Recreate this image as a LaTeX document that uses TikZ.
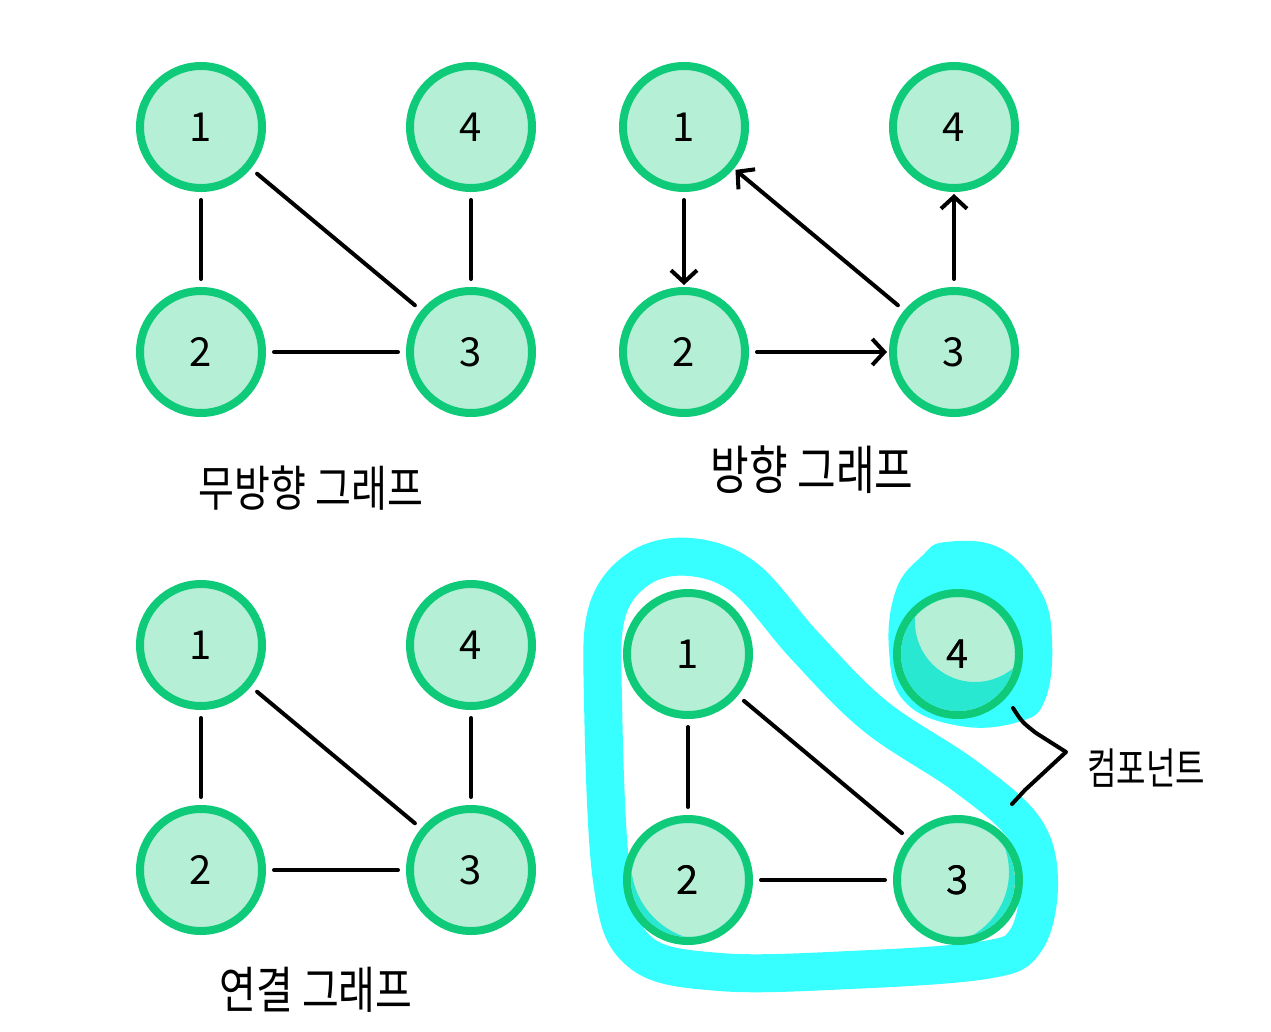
\documentclass[tikz,border=0pt]{standalone}
\usepackage{graphicx}
\usepackage{fontspec}
\setmainfont{Noto Sans CJK KR}
\usetikzlibrary{arrows.meta}
\definecolor{vgreen}{HTML}{0FCB79}
\definecolor{vfill}{HTML}{B5EFD6}
\definecolor{hcyan}{HTML}{38FFFF}
\definecolor{hturq}{HTML}{28E8D2}
\newcommand{\numfont}{\fontsize{40}{40}\selectfont}
% darker part of a node where the marker runs over it
\newcommand{\tintnode}[4]{%
  \begin{scope}
    \clip (#1.center) circle (57pt);
    \fill[hturq,even odd rule] (#1.center) circle (57pt) ([shift={(#2,#3)}]#1.center) circle (#4);
  \end{scope}}
\begin{document}
\begin{tikzpicture}[x=1pt,y=-1pt,
  vert/.style={circle,draw=vgreen,fill=vfill,line width=8pt,minimum size=122pt,inner sep=0pt,font=\numfont},
  edge/.style={line width=4pt,line cap=round,shorten <=8pt,shorten >=8pt},
  arc/.style={edge,shorten >=2pt,-{Straight Barb[length=12pt,width=26pt]}},
  lbl/.style={inner sep=0pt}]
\useasboundingbox (0,0) rectangle (1271,1032);
%undirected
\node[vert] (u1) at (201,127) {1};
\node[vert] (u4) at (471,127) {4};
\node[vert] (u2) at (201,352) {2};
\node[vert] (u3) at (471,352) {3};
\draw[edge] (u1) -- (u2);
\draw[edge] (u1) -- (u3);
\draw[edge] (u4) -- (u3);
\draw[edge] (u2) -- (u3);
\node[lbl,font=\fontsize{39}{39}\selectfont] (ulabel) at (311,488) {\scalebox{1}[1.25]{무방향 그래프}};
%directed
\node[vert] (d1) at (684,127) {1};
\node[vert] (d4) at (954,127) {4};
\node[vert] (d2) at (684,352) {2};
\node[vert] (d3) at (954,352) {3};
\draw[arc] (d1) -- (d2);
\draw[arc] (d3) -- (d1);
\draw[arc] (d3) -- (d4);
\draw[arc] (d2) -- (d3);
\node[lbl,font=\fontsize{42}{42}\selectfont] (dlabel) at (812,470) {\scalebox{1}[1.25]{방향 그래프}};
%connected
\node[vert] (c1) at (201,645) {1};
\node[vert] (c4) at (471,645) {4};
\node[vert] (c2) at (201,870) {2};
\node[vert] (c3) at (471,870) {3};
\draw[edge] (c1) -- (c2);
\draw[edge] (c1) -- (c3);
\draw[edge] (c4) -- (c3);
\draw[edge] (c2) -- (c3);
\node[lbl,font=\fontsize{40}{40}\selectfont] (clabel) at (316,990) {\scalebox{1}[1.25]{연결 그래프}};
%components (marker first)
\draw[hcyan,line width=38pt,line join=round] plot[smooth cycle,tension=0.6] coordinates {
  (603,700) (607,612) (640,568) (690,557) (745,578) (805,646) (875,716)
  (965,776) (1024,828) (1039,882) (1026,940) (985,960) (850,970) (720,972)
  (640,952) (612,880)};
\fill[hcyan] plot[smooth cycle,tension=0.7] coordinates {
  (946,542) (1000,548) (1040,590) (1052,640) (1045,700) (1018,722)
  (960,726) (905,702) (889,650) (896,590) (922,556)};
\node[vert] (k1) at (688,654) {1};
\node[vert] (k4) at (958,654) {4};
\node[vert] (k2) at (688,880) {2};
\node[vert] (k3) at (958,880) {3};
\tintnode{k4}{17}{-32}{60pt}
\tintnode{k2}{22}{-18}{79pt}
\tintnode{k3}{-22}{-8}{73pt}
\node[vert,draw=none,fill=none] at (k4) {4};
\node[vert,draw=none,fill=none] at (k2) {2};
\node[vert,draw=none,fill=none] at (k3) {3};
\draw[edge] (k1) -- (k2);
\draw[edge] (k1) -- (k3);
\draw[edge] (k2) -- (k3);
%brace
\coordinate (b1) at (1013,708);
\coordinate (b2) at (1012,804);
\node[lbl,font=\fontsize{32}{32}\selectfont] (klabel) at (1146,768) {\scalebox{1}[1.35]{컴포넌트}};
\draw[line width=4pt,line cap=round,line join=round] (b1) .. controls (1022,722) .. (1036,733) -- (1066,752) -- (1025,790) -- (b2);
\end{tikzpicture}
\end{document}
